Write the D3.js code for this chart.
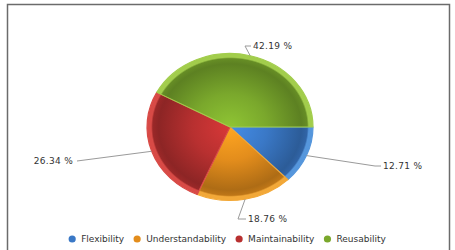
<!DOCTYPE html>
<html><head><meta charset="utf-8">
<script src="https://cdn.jsdelivr.net/npm/d3@7"></script>
<style>html,body{margin:0;padding:0;background:#fff;}svg{display:block;}</style>
</head><body>
<svg id="c" width="455" height="250"></svg>
<script>
const categories = ["Flexibility", "Understandability", "Maintainability", "Reusability"];
const values = [12.71, 18.76, 26.34, 42.19];
const labels = ["12.71 %", "18.76 %", "26.34 %", "42.19 %"];
const colors = ["#3a78c6", "#e38d1c", "#b83030", "#7aa82c"];
const rims = ["#5596dc", "#f2a838", "#d84a46", "#a2cd4c"];

const svg = d3.select("#c");
svg.append("rect").attr("x", 7.5).attr("y", 4.5).attr("width", 442).attr("height", 260)
  .attr("fill", "#fff").attr("stroke", "#6b6b6b").attr("stroke-width", 1.5);

const cx = 230, cy = 127, rx = 83, ry = 73.5;
const sy = ry / rx;
const defs = svg.append("defs");
colors.forEach((c, i) => {
  const base = d3.color(c);
  const g = defs.append("radialGradient").attr("id", "g" + i)
    .attr("gradientUnits", "userSpaceOnUse").attr("cx", 0).attr("cy", 0).attr("r", rx);
  g.append("stop").attr("offset", "0%").attr("stop-color", base.brighter(0.45));
  g.append("stop").attr("offset", "45%").attr("stop-color", base);
  g.append("stop").attr("offset", "86%").attr("stop-color", base.darker(0.75));
  g.append("stop").attr("offset", "93%").attr("stop-color", base.darker(0.5));
  g.append("stop").attr("offset", "95%").attr("stop-color", rims[i]);
  g.append("stop").attr("offset", "100%").attr("stop-color", rims[i]);
});

const pie = d3.pie().sort(null).value(d => d)
  .startAngle(Math.PI / 2).endAngle(Math.PI / 2 + 2 * Math.PI);
const arcs = pie(values);
const arc = d3.arc().innerRadius(0).outerRadius(rx);

const gp = svg.append("g").attr("transform", `translate(${cx},${cy}) scale(1,${sy})`);
gp.selectAll("path").data(arcs).join("path")
  .attr("d", arc)
  .attr("fill", (d, i) => `url(#g${i})`)
  .attr("stroke", (d, i) => rims[i])
  .attr("stroke-width", 1.2)
  .attr("stroke-linejoin", "round");

// labels with connectors
const labelPos = [ // [elbowX, elbowY, textX, textY, anchor]
  [375, 166, 383, 166, "start"],
  [238, 219, 248, 219, "start"],
  [77, 161, 73, 161, "end"],
  [245, 46, 253, 46, "start"]
];
arcs.forEach((a, i) => {
  const m = (a.startAngle + a.endAngle) / 2;
  const px = cx + rx * Math.sin(m), py = cy - ry * Math.cos(m);
  const [ex, ey, tx, ty, an] = labelPos[i];
  svg.append("path").attr("d", `M${px},${py}L${ex},${ey}L${an === "start" ? tx - 2 : ex},${ty}`)
    .attr("fill", "none").attr("stroke", "#9a9a9a").attr("stroke-width", 1);
  svg.append("text").attr("x", tx).attr("y", ty).attr("dy", "0.35em")
    .attr("text-anchor", an).attr("font-family", "DejaVu Sans, Verdana, sans-serif")
    .attr("font-size", 9).attr("letter-spacing", 0.3).attr("fill", "#333").text(labels[i]);
});

// legend
const lg = svg.append("g");
let x = 0;
categories.forEach((c, i) => {
  const it = lg.append("g").attr("transform", `translate(${x},0)`);
  it.append("circle").attr("cx", 0).attr("cy", 0).attr("r", 3.6).attr("fill", colors[i]);
  const t = it.append("text").attr("x", 9).attr("y", 0).attr("dy", "0.35em")
    .attr("font-family", "DejaVu Sans, Verdana, sans-serif").attr("font-size", 9)
    .attr("fill", "#333").text(c);
  x += 9 + t.node().getComputedTextLength() + 13;
});
const lw = x - 13;
lg.attr("transform", `translate(${cx - lw / 2 - 1},239)`);
</script>
</body></html>
